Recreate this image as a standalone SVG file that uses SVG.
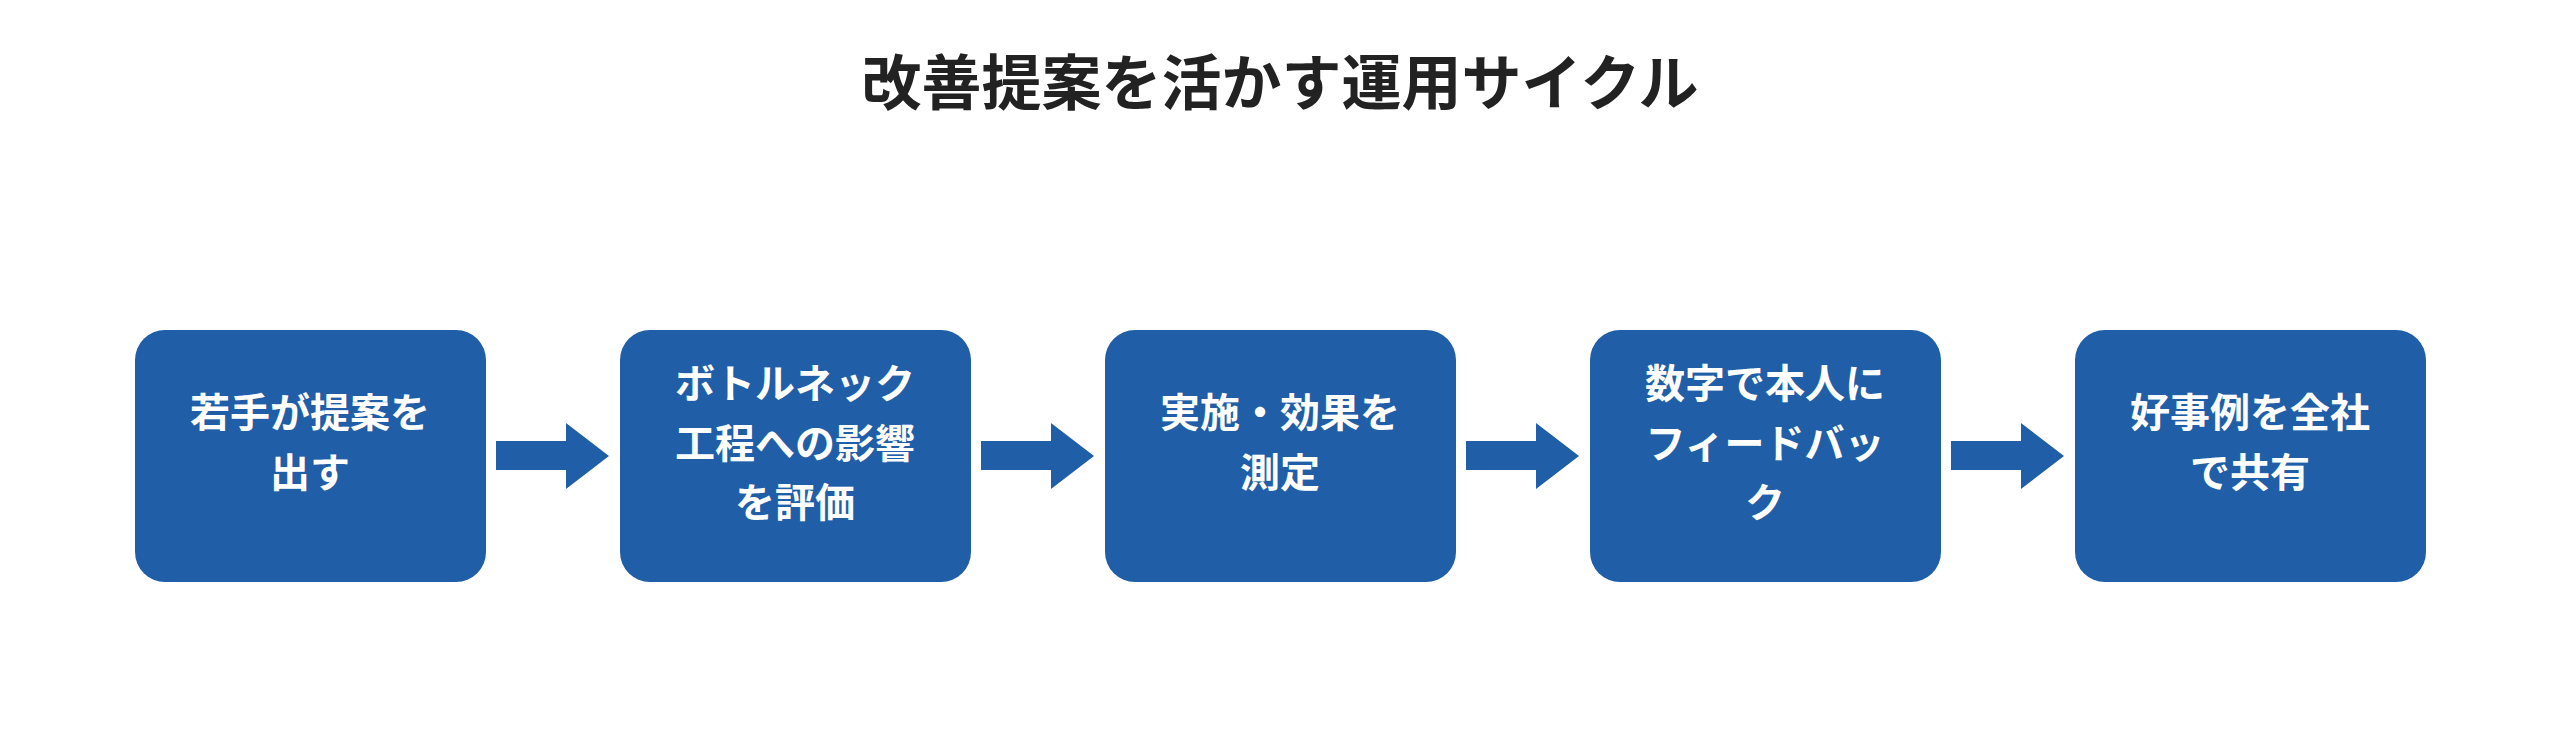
<svg xmlns="http://www.w3.org/2000/svg" width="2560" height="756" viewBox="0 0 2560 756">
<style>
.box{fill:#205ea8}
.t{font-family:"Noto Sans CJK JP","Liberation Sans",sans-serif;font-weight:bold;font-size:40px;fill:#fff;text-anchor:middle;dominant-baseline:central}
.title{font-family:"Noto Sans CJK JP","Liberation Sans",sans-serif;font-weight:bold;font-size:60px;fill:#222;text-anchor:middle;dominant-baseline:central}
.arr{fill:#205ea8}
</style>
<rect width="2560" height="756" fill="#fff"/>
<text class="title" x="1280" y="78">改善提案を活かす運用サイクル</text>
<g id="connectors">
<polygon class="arr" points="496,441 566,441 566,423 609,456 566,489 566,470 496,470"/>
<polygon class="arr" points="981,441 1051,441 1051,423 1094,456 1051,489 1051,470 981,470"/>
<polygon class="arr" points="1466,441 1536,441 1536,423 1579,456 1536,489 1536,470 1466,470"/>
<polygon class="arr" points="1951,441 2021,441 2021,423 2064,456 2021,489 2021,470 1951,470"/>
</g>
<g id="n1"><rect class="box" x="135" y="330" width="351" height="252" rx="30"/><text class="t" x="310" y="410">若手が提案を</text><text class="t" x="310" y="470">出す</text></g>
<g id="n2"><rect class="box" x="620" y="330" width="351" height="252" rx="30"/><text class="t" x="795" y="381">ボトルネック</text><text class="t" x="795" y="441">工程への影響</text><text class="t" x="795" y="500">を評価</text></g>
<g id="n3"><rect class="box" x="1105" y="330" width="351" height="252" rx="30"/><text class="t" x="1280" y="410">実施・効果を</text><text class="t" x="1280" y="470">測定</text></g>
<g id="n4"><rect class="box" x="1590" y="330" width="351" height="252" rx="30"/><text class="t" x="1765" y="381">数字で本人に</text><text class="t" x="1765" y="441">フィードバッ</text><text class="t" x="1765" y="500">ク</text></g>
<g id="n5"><rect class="box" x="2075" y="330" width="351" height="252" rx="30"/><text class="t" x="2250" y="410">好事例を全社</text><text class="t" x="2250" y="470">で共有</text></g>
</svg>
